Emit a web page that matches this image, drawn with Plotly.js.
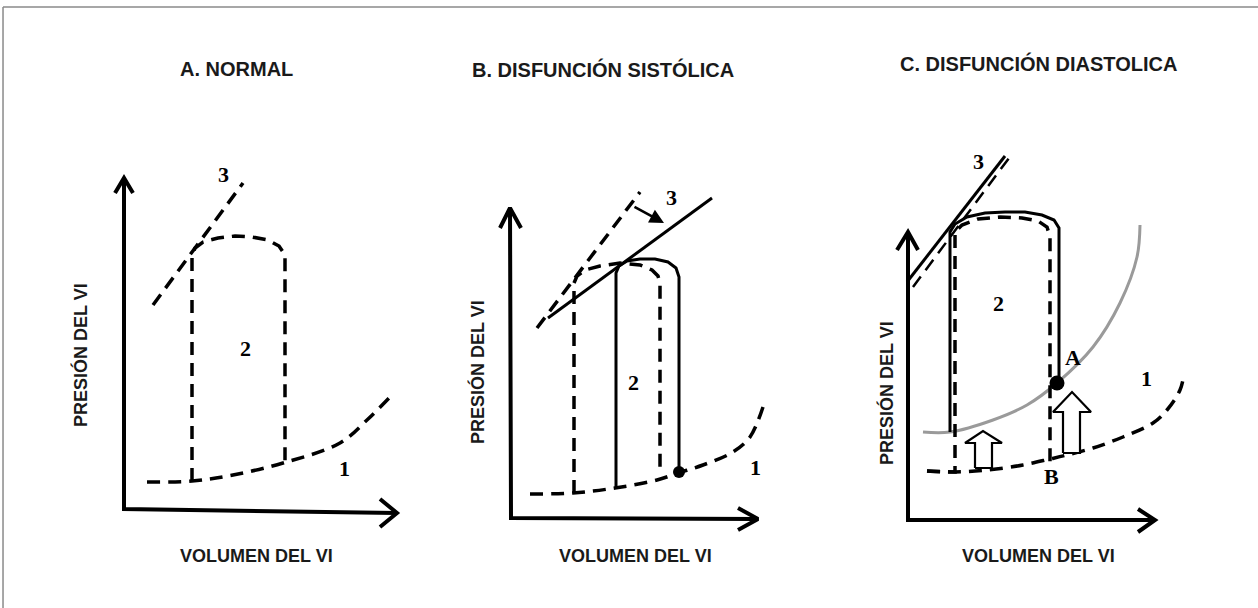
<!DOCTYPE html>
<html>
<head>
<meta charset="utf-8">
<script src="https://cdn.plot.ly/plotly-3.0.1.min.js"></script>
<style>
html,body{margin:0;padding:0;background:#fff;}
#chart{width:1258px;height:608px;}
</style>
</head>
<body>
<div id="chart"></div>
<script>
// ---------- Panel A: NORMAL ----------
const A_axis_x = [124, 124, 397];
const A_axis_y = [178, 509, 513];
const A_yhead_x = [115, 124, 133];
const A_yhead_y = [193, 178, 193];
const A_xhead_x = [380, 397, 380];
const A_xhead_y = [499, 513, 527];
const A_edpvr_x = [147, 192, 233, 283, 340, 367, 390];
const A_edpvr_y = [482, 481, 475, 463, 443, 420, 397];
const A_loop_x = [192, 192, 195, 203, 218, 235, 252, 268, 279, 285, 285];
const A_loop_y = [481, 257, 248, 242, 238, 236, 237, 240, 246, 255, 463];
const A_espvr_x = [153, 243];
const A_espvr_y = [305, 183];

// ---------- Panel B: DISFUNCIÓN SISTÓLICA ----------
const B_axis_x = [510, 511, 758];
const B_axis_y = [208, 518, 519];
const B_yhead_x = [500, 510, 521];
const B_yhead_y = [228, 208, 228];
const B_xhead_x = [738, 758, 738];
const B_xhead_y = [508, 519, 530];
const B_edpvr_x = [530, 573, 615, 657, 678, 703, 733, 750, 763];
const B_edpvr_y = [494, 493, 488, 480, 473, 465, 452, 437, 407];
const B_oldloop_x = [574, 574, 577, 585, 600, 620, 640, 652, 658, 660, 660];
const B_oldloop_y = [493, 283, 276, 270, 266, 263, 265, 270, 276, 283, 467];
const B_newloop_x = [616, 616, 619, 627, 640, 655, 668, 676, 679, 679];
const B_newloop_y = [488, 273, 266, 261, 259, 259, 262, 268, 277, 472];
const B_oldespvr_x = [537, 640];
const B_oldespvr_y = [328, 192];
const B_newespvr_x = [548, 712];
const B_newespvr_y = [318, 198];
const B_point_x = [679];
const B_point_y = [472];

// ---------- Panel C: DISFUNCIÓN DIASTOLICA ----------
const C_axis_x = [908, 908, 1155];
const C_axis_y = [232, 520, 520];
const C_yhead_x = [897, 908, 918];
const C_yhead_y = [250, 232, 250];
const C_xhead_x = [1138, 1155, 1138];
const C_xhead_y = [509, 520, 532];
const C_edpvr_x = [927, 955, 987, 1023, 1050, 1067, 1093, 1123, 1153, 1167, 1180, 1184];
const C_edpvr_y = [471, 472, 470, 465, 459, 455, 448, 437, 423, 410, 390, 374];
const C_newedpvr_x = [923, 950, 993, 1027, 1057, 1093, 1120, 1137, 1140];
const C_newedpvr_y = [432, 432, 420, 405, 383, 347, 303, 257, 225];
const C_oldloop_x = [927, 955, 955, 962, 978, 1000, 1022, 1038, 1047, 1050, 1050];
const C_oldloop_y = [471, 472, 232, 225, 219, 217, 218, 221, 227, 237, 462];
const C_newloop_x = [950, 950, 955, 967, 985, 1005, 1025, 1042, 1054, 1059, 1059];
const C_newloop_y = [432, 232, 224, 217, 213, 212, 212, 215, 220, 228, 383];
const C_espvr_x = [907, 1005];
const C_espvr_y = [282, 156];
const C_espvr2_x = [913, 1009];
const C_espvr2_y = [287, 158];
const C_point_x = [1057];
const C_point_y = [383];
const C_smallArrow_x = [975, 975, 965, 983, 1002, 992, 992, 975];
const C_smallArrow_y = [468, 443, 443, 431, 443, 443, 468, 468];
const C_bigArrow_x = [1063, 1063, 1053, 1072, 1091, 1080, 1080, 1063];
const C_bigArrow_y = [453, 412, 412, 392, 412, 412, 453, 453];

// ---------- Text ----------
const panelTitles = ['A. NORMAL', 'B. DISFUNCIÓN SISTÓLICA', 'C. DISFUNCIÓN DIASTOLICA'];
const yLabel = 'PRESIÓN DEL VI';
const xLabel = 'VOLUMEN DEL VI';

const K = '#000';
const DASH = '13px,8px';
function line(x, y, opts) {
  opts = opts || {};
  return {
    x: x, y: y, type: 'scatter', mode: 'lines', hoverinfo: 'skip', showlegend: false,
    line: {color: opts.color || K, width: opts.width || 3.5, dash: opts.dash || 'solid',
           shape: opts.shape || 'linear'}
  };
}
function dot(x, y, size) {
  return {x: x, y: y, type: 'scatter', mode: 'markers', hoverinfo: 'skip', showlegend: false,
          marker: {color: K, size: size}};
}
function block(x, y) {
  return {x: x, y: y, type: 'scatter', mode: 'lines', fill: 'toself', fillcolor: '#fff',
          hoverinfo: 'skip', showlegend: false, line: {color: K, width: 2.2}};
}

const traces = [
  // A
  line(A_axis_x, A_axis_y, {width: 4}),
  line(A_yhead_x, A_yhead_y, {width: 4}),
  line(A_xhead_x, A_xhead_y, {width: 4}),
  line(A_edpvr_x, A_edpvr_y, {dash: DASH, shape: 'spline'}),
  line(A_loop_x, A_loop_y, {dash: DASH}),
  line(A_espvr_x, A_espvr_y, {dash: DASH}),
  // B
  line(B_axis_x, B_axis_y, {width: 4}),
  line(B_yhead_x, B_yhead_y, {width: 4}),
  line(B_xhead_x, B_xhead_y, {width: 4}),
  line(B_edpvr_x, B_edpvr_y, {dash: DASH, shape: 'spline'}),
  line(B_oldloop_x, B_oldloop_y, {dash: DASH}),
  line(B_newloop_x, B_newloop_y, {width: 3}),
  line(B_oldespvr_x, B_oldespvr_y, {dash: DASH}),
  line(B_newespvr_x, B_newespvr_y, {width: 3}),
  dot(B_point_x, B_point_y, 12),
  // C
  line(C_axis_x, C_axis_y, {width: 4}),
  line(C_yhead_x, C_yhead_y, {width: 4}),
  line(C_xhead_x, C_xhead_y, {width: 4}),
  line(C_edpvr_x, C_edpvr_y, {dash: DASH, shape: 'spline'}),
  line(C_newedpvr_x, C_newedpvr_y, {color: '#9a9a9a', width: 3, shape: 'spline'}),
  line(C_oldloop_x, C_oldloop_y, {dash: DASH}),
  line(C_newloop_x, C_newloop_y, {width: 3}),
  line(C_espvr_x, C_espvr_y, {width: 3}),
  line(C_espvr2_x, C_espvr2_y, {dash: DASH, width: 2.5}),
  block(C_smallArrow_x, C_smallArrow_y),
  block(C_bigArrow_x, C_bigArrow_y),
  dot(C_point_x, C_point_y, 15)
];

const sans = {family: '"Liberation Sans Narrow", "Arial Narrow", "Liberation Sans", Arial, sans-serif', color: '#1a1a1a'};
const serif = {family: '"Liberation Serif", "Times New Roman", serif', size: 22, color: '#000'};
function txt(x, y, t, font, extra) {
  return Object.assign({x: x, y: y, xref: 'x', yref: 'y', text: t, showarrow: false, font: font,
                        xanchor: 'center', yanchor: 'middle'}, extra || {});
}
const tFont = Object.assign({}, sans, {size: 20});
const lFont = Object.assign({}, sans, {size: 18});
const annotations = [
  txt(236, 69, '<b>' + panelTitles[0] + '</b>', tFont),
  txt(603, 69, '<b>' + panelTitles[1] + '</b>', tFont),
  txt(1038, 63, '<b>' + panelTitles[2] + '</b>', tFont),
  txt(80, 355, '<b>' + yLabel + '</b>', lFont, {textangle: -90}),
  txt(477, 372, '<b>' + yLabel + '</b>', lFont, {textangle: -90}),
  txt(886, 393, '<b>' + yLabel + '</b>', lFont, {textangle: -90}),
  txt(256, 556, '<b>' + xLabel + '</b>', lFont),
  txt(635, 556, '<b>' + xLabel + '</b>', lFont),
  txt(1038, 556, '<b>' + xLabel + '</b>', lFont),
  // numbers / letters
  txt(223, 174, '<b>3</b>', serif),
  txt(245, 348, '<b>2</b>', serif),
  txt(344, 468, '<b>1</b>', serif),
  txt(671, 197, '<b>3</b>', serif),
  txt(633, 382, '<b>2</b>', serif),
  txt(755, 467, '<b>1</b>', serif),
  txt(978, 161, '<b>3</b>', serif),
  txt(998, 303, '<b>2</b>', serif),
  txt(1073, 357, '<b>A</b>', serif),
  txt(1146, 378, '<b>1</b>', serif),
  txt(1051, 476, '<b>B</b>', serif),
  // shift arrow in panel B
  {x: 664, y: 223, ax: 633, ay: 206, xref: 'x', yref: 'y', axref: 'x', ayref: 'y', text: '',
   showarrow: true, arrowhead: 2, arrowsize: 1.1, arrowwidth: 2.6, arrowcolor: K}
];

const layout = {
  width: 1258, height: 608,
  margin: {l: 0, r: 0, t: 0, b: 0},
  paper_bgcolor: '#fff', plot_bgcolor: '#fff',
  xaxis: {range: [0, 1258], visible: false, fixedrange: true},
  yaxis: {range: [608, 0], visible: false, fixedrange: true},
  showlegend: false,
  annotations: annotations,
  shapes: [
    {type: 'line', xref: 'paper', yref: 'paper', x0: 0.0024, x1: 1, y0: 1 - 7 / 608, y1: 1 - 7 / 608,
     line: {color: '#8a8a8a', width: 1.5}},
    {type: 'line', xref: 'paper', yref: 'paper', x0: 0.0024, x1: 0.0024, y0: 0, y1: 1 - 7 / 608,
     line: {color: '#8a8a8a', width: 1.5}}
  ]
};

Plotly.newPlot('chart', traces, layout, {staticPlot: true, displayModeBar: false});
</script>
</body>
</html>
